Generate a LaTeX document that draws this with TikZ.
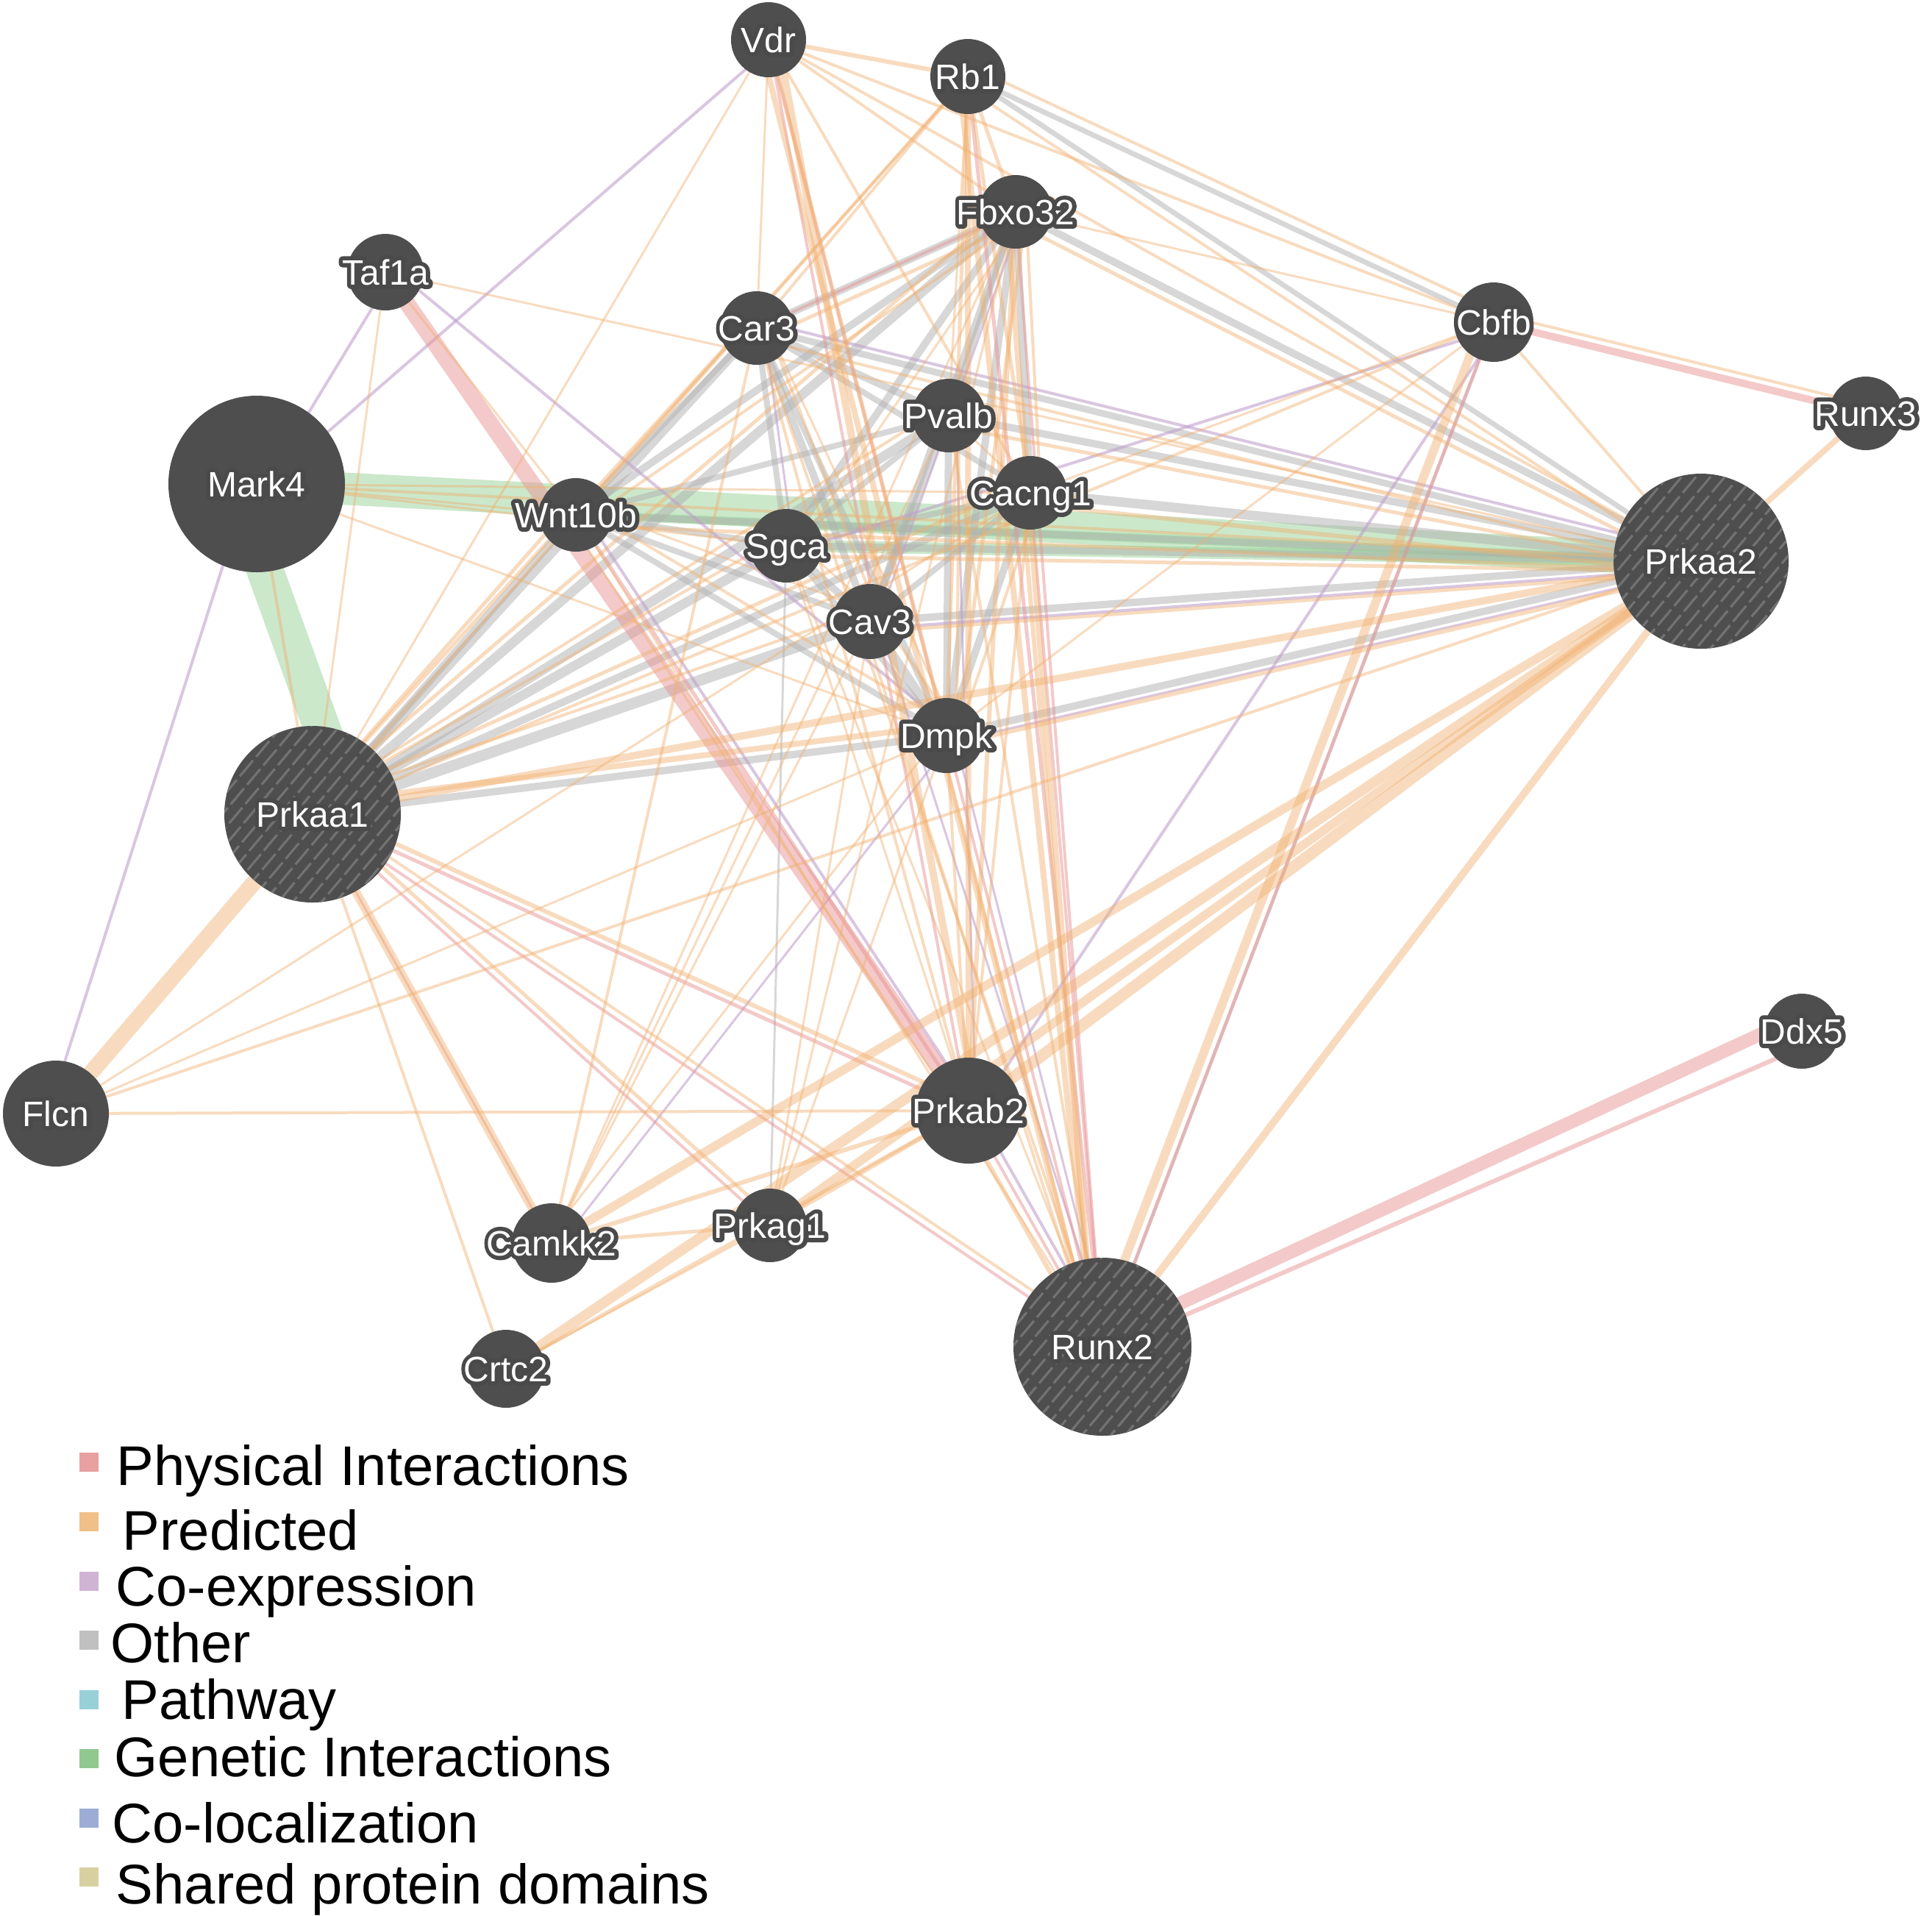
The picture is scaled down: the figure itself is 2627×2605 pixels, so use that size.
\documentclass[tikz,border=0pt]{standalone}
\usepackage{fontspec}
\setmainfont{Liberation Sans}
\newfontfamily\halofont{Liberation Sans}[FakeBold=24]
\usetikzlibrary{calc}
\pgfdeclarelayer{edges}
\pgfsetlayers{edges,main}
\definecolor{nodegray}{HTML}{4E4E4E}
\definecolor{halogray}{HTML}{4A4A4A}
\definecolor{stripegray}{HTML}{727272}
\definecolor{cPred}{HTML}{F0B070}
\definecolor{cPhys}{HTML}{E89494}
\definecolor{cCoex}{HTML}{C0A0CC}
\definecolor{cOther}{HTML}{B0B0B0}
\definecolor{cGen}{HTML}{8CCB8C}
\definecolor{lPhys}{HTML}{E8A0A0}
\definecolor{lPred}{HTML}{F0C088}
\definecolor{lCoex}{HTML}{D0B4D4}
\definecolor{lOther}{HTML}{C0C0C0}
\definecolor{lPath}{HTML}{98D0D8}
\definecolor{lGen}{HTML}{90C890}
\definecolor{lColoc}{HTML}{9CACD4}
\definecolor{lShared}{HTML}{D8D0A0}
\newcommand\halo[1]{\makebox[0pt]{\rlap{\special{pdf:code 1 j 1 J}\color{halogray}\halofont #1}#1}}
\tikzset{
  gene/.style={circle, fill=nodegray, draw=none, inner sep=0pt,
    minimum size=#1*0.5pt, text=white,
    font=\fontsize{12}{12}\selectfont, text height=8.6pt, text depth=0pt},
  hatched/.style={path picture={
    \begin{scope}[shift={(path picture bounding box.center)}]
      \foreach \k in {-9,...,9}{
        \pgfmathsetmacro\st{-160+mod(abs(\k)*37,50)}
        \draw[draw=stripegray, line width=0.8pt, dash pattern=on 7pt off 1.6pt]
          ({\k*11.49+\st*0.643},{\k*9.64-\st*0.766}) -- ({\k*11.49+160*0.643},{\k*9.64-160*0.766});
      }
    \end{scope}}},
  lw/.style={line width={#1*0.25pt}},
  pr/.style={draw=cPred, draw opacity=0.45},
  ph/.style={draw=cPhys, draw opacity=0.5},
  co/.style={draw=cCoex, draw opacity=0.6},
  ot/.style={draw=cOther, draw opacity=0.5},
  ge/.style={draw=cGen, draw opacity=0.45},
  legsq/.style={draw=none, inner sep=0pt, minimum size=6.5pt},
  legtx/.style={anchor=base west, inner sep=0pt, text=black, font=\fontsize{19}{22}\selectfont},
}
\begin{document}
\begin{tikzpicture}[x=0.25pt, y=-0.25pt]
\useasboundingbox (0,0) rectangle (2627,2605);

% genes
\node[gene=51] (vdr) at (1045,54) {\halo{Vdr}};
\node[gene=51] (rb1) at (1316,104) {\halo{Rb1}};
\node[gene=50] (fbx) at (1381,288) {\halo{Fbxo32}};
\node[gene=52] (taf) at (524,370) {\halo{Taf1a}};
\node[gene=50] (car) at (1029,446) {\halo{Car3}};
\node[gene=54] (cbfb) at (2031,438) {\halo{Cbfb}};
\node[gene=50] (runx3) at (2537,562) {\halo{Runx3}};
\node[gene=50] (pva) at (1290,565) {\halo{Pvalb}};
\node[gene=120] (mark) at (349,658) {\halo{Mark4}};
\node[gene=50] (wnt) at (783,700) {\halo{Wnt10b}};
\node[gene=50] (cac) at (1401,670) {\halo{Cacng1}};
\node[gene=50] (sgca) at (1069,742) {\halo{Sgca}};
\node[gene=119, hatched] (pk2) at (2313,763) {\halo{Prkaa2}};
\node[gene=51] (cav) at (1183,845) {\halo{Cav3}};
\node[gene=51] (dmpk) at (1287,1000) {\halo{Dmpk}};
\node[gene=120, hatched] (pk1) at (425,1107) {\halo{Prkaa1}};
\node[gene=72] (flcn) at (76,1514) {\halo{Flcn}};
\node[gene=51] (ddx) at (2450,1402) {\halo{Ddx5}};
\node[gene=72] (pb2) at (1317,1510) {\halo{Prkab2}};
\node[gene=54] (camk) at (750,1690) {\halo{Camkk2}};
\node[gene=50] (pg1) at (1047,1666) {\halo{Prkag1}};
\node[gene=121, hatched] (runx2) at (1499,1831) {\halo{Runx2}};
\node[gene=53] (crtc) at (688,1861) {\halo{Crtc2}};

% legend
\foreach \i/\c/\sy/\tx/\by/\t in {
  1/lPhys/1988/158/2019/Physical Interactions,
  2/lPred/2069/166/2107/Predicted,
  3/lCoex/2150/157/2183/Co-expression,
  4/lOther/2230/150/2260/Other,
  5/lPath/2311/165/2337/Pathway,
  6/lGen/2391/155/2415/Genetic Interactions,
  7/lColoc/2472/152/2505/Co-localization,
  8/lShared/2552/157/2588/Shared protein domains}{
  \node[legsq, fill=\c] (lsq\i) at (121,\sy) {};
  \node[legtx] (ltx\i) at (\tx,\by) {\t};
}

\begin{pgfonlayer}{edges}
% genetic interactions
\foreach \a/\b/\w in {mark/pk2/44, sgca/pk2/16, wnt/pk2/12}
  \draw[ge, lw=\w] (\a.center) -- (\b.center);
\draw[ge, lw=50] ($(mark.center)+(-31,0)$) -- ($(pk1.center)+(55,0)$);
% other
\foreach \a/\b/\w in {pk1/car/13, pk1/fbx/13, pk1/pva/13, pk1/cac/10, pk1/sgca/13, pk1/cav/15, pk1/dmpk/10, pk1/wnt/10,
  pk2/car/9, pk2/fbx/10, pk2/pva/10, pk2/cac/13, pk2/sgca/10, pk2/cav/10, pk2/dmpk/10, pk2/rb1/7, pk2/wnt/9,
  car/pva/10, car/cav/10, car/dmpk/8, car/cac/8, car/sgca/8, fbx/car/10, fbx/wnt/10, fbx/sgca/10, fbx/cav/10,
  fbx/dmpk/10, fbx/cac/10, fbx/pva/8, pva/sgca/8, pva/cav/10, pva/dmpk/10, cac/sgca/8, cac/cav/8, cac/dmpk/10,
  sgca/cav/10, sgca/dmpk/8, cav/dmpk/13, wnt/sgca/8, wnt/cav/8, wnt/pva/8, wnt/car/8, wnt/dmpk/8,
  sgca/pg1/3, runx2/cbfb/4, rb1/cbfb/7}
  \draw[ot, lw=\w] (\a.center) -- (\b.center);
% co-expression
\foreach \a/\b/\w in {vdr/mark/4, taf/mark/4, flcn/mark/4, taf/dmpk/4, cbfb/sgca/4, cbfb/pb2/4, car/pk2/4,
  pk2/cav/4, pk2/dmpk/3, pb2/runx2/4, wnt/pb2/4, dmpk/runx2/3, dmpk/camk/3, pva/pb2/3, cav/runx2/3,
  fbx/cav/3, car/sgca/3}
  \draw[co, lw=\w] ($(\a.center)!2.5pt!90:(\b.center)$) -- ($(\b.center)!2.5pt!-90:(\a.center)$);
% physical interactions
\foreach \a/\b/\w in {taf/pb2/22, cbfb/runx3/10, cbfb/runx2/5, rb1/runx2/5, vdr/runx2/4, vdr/pb2/4,
  fbx/runx2/4, cac/runx2/4, pk1/pb2/5, pk1/pg1/4, pk1/runx2/4, car/fbx/4, wnt/pb2/5, pb2/runx2/4, pk1/camk/3}
  \draw[ph, lw=\w] (\a.center) -- (\b.center);
\draw[ph, lw=18] ($(ddx.center)+(0,-22)$) -- ($(runx2.center)+(0,-10)$);
\draw[ph, lw=6] ($(ddx.center)+(0,22)$) -- ($(runx2.center)+(0,6)$);
% predicted (last field: sideways offset from a parallel edge of another kind)
\foreach \a/\b/\w/\o in {pk2/pb2/16/0, pk2/pg1/12/0, pk2/camk/12/0, pk2/crtc/14/0, pk2/runx2/10/0, pk2/pk1/10/0,
  pk2/flcn/4/0, pk2/vdr/4/0, pk2/rb1/4/3.5, pk2/fbx/5/3.5, pk2/car/4/3.5, pk2/pva/5/3.5, pk2/cac/6/4, pk2/sgca/5/3.5,
  pk2/cav/5/3.5, pk2/dmpk/6/3.5, pk2/wnt/5/3.5, pk2/mark/4/0, pk2/runx3/8/0, pk2/cbfb/4/0, pk2/taf/3/0,
  pk1/pb2/6/2.5, pk1/pg1/5/2.5, pk1/camk/12/0, pk1/crtc/4/0, pk1/runx2/4/2.5, pk1/flcn/22/0, pk1/vdr/3/0,
  pk1/rb1/4/0, pk1/fbx/5/3.5, pk1/car/5/3.5, pk1/pva/4/3.5, pk1/cac/5/3.5, pk1/sgca/4/3.5, pk1/cav/4/4, pk1/dmpk/8/3.5,
  pk1/wnt/5/3.5, pk1/mark/4/0, pk1/cbfb/4/0,
  runx2/vdr/8/3, runx2/rb1/8/3, runx2/fbx/8/3, runx2/cac/6/3, runx2/cbfb/12/3.5, runx2/car/4/0,
  runx2/pva/4/0, runx2/dmpk/5/2.5, runx2/cav/4/2.5, runx2/wnt/3/0, runx2/pb2/6/3, runx2/sgca/3/0,
  vdr/rb1/6/0, vdr/fbx/4/0, vdr/cbfb/4/0, vdr/pb2/10/3, vdr/dmpk/6/0, vdr/cac/4/0, vdr/car/3/0,
  rb1/cbfb/4/3.5, rb1/car/4/0, rb1/wnt/4/0, rb1/pb2/8/0, rb1/pva/3/0, rb1/fbx/5/0, rb1/dmpk/5/0, rb1/cac/5/0,
  fbx/car/5/4, fbx/wnt/4/3.5, fbx/cac/4/3.5, fbx/pb2/6/0, fbx/dmpk/5/3.5, fbx/cbfb/3/0, fbx/sgca/3/3.5, fbx/pg1/3/0,
  fbx/camk/3/0, car/camk/4/0, car/pb2/4/0, car/dmpk/3/3.5, car/cav/4/3.5,
  pb2/pg1/6/0, pb2/camk/6/0, pb2/crtc/5/0, pb2/flcn/4/0, pb2/wnt/3/3, pb2/dmpk/4/0, pb2/cac/4/0, pb2/sgca/3/0,
  pg1/camk/5/0, pg1/dmpk/3/0, pg1/cav/3/0, pg1/crtc/3/0,
  camk/dmpk/3/2, camk/cav/3/0, camk/pva/3/0,
  mark/wnt/3/0, mark/dmpk/3/0, mark/cac/3/0, mark/sgca/3/0,
  flcn/dmpk/3/0, flcn/cac/3/0,
  cbfb/runx3/4/3, cbfb/cac/3/0, cbfb/dmpk/3/0,
  pva/cac/3/0, pva/dmpk/4/3.5, sgca/cav/3/3.5, wnt/dmpk/4/3.5, wnt/cav/3/3.5, cav/dmpk/4/4, cac/dmpk/4/3.5,
  taf/wnt/3/0, taf/pk1/3/0}
  \draw[pr, lw=\w] ($(\a.center)!\o pt!90:(\b.center)$) -- ($(\b.center)!\o pt!-90:(\a.center)$);
\end{pgfonlayer}
\end{tikzpicture}
\end{document}
